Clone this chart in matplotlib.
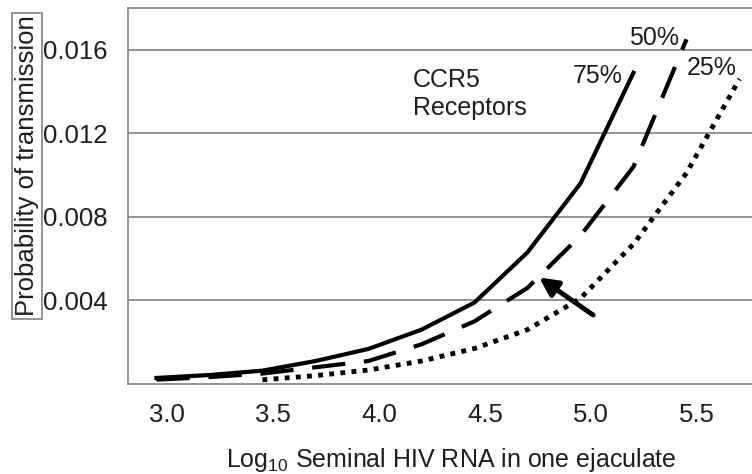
import matplotlib
matplotlib.use('Agg')
import matplotlib.pyplot as plt

plt.rcParams['font.family'] = ['Liberation Sans', 'DejaVu Sans']
plt.rcParams['mathtext.fontset'] = 'custom'
plt.rcParams['mathtext.rm'] = 'Liberation Sans'
plt.rcParams['mathtext.default'] = 'regular'

# log10 seminal HIV RNA vs probability of transmission, by CCR5 receptor level
x_75 = [2.95, 3.2, 3.45, 3.7, 3.95, 4.2, 4.45, 4.7, 4.95, 5.2]
p_75 = [0.00029, 0.00043, 0.00064, 0.0011, 0.00168, 0.0026, 0.0039, 0.0063, 0.0096, 0.0149]

x_50 = [2.95, 3.2, 3.45, 3.7, 3.95, 4.2, 4.45, 4.7, 4.95, 5.2, 5.45]
p_50 = [0.00021, 0.00033, 0.0005, 0.0008, 0.0011, 0.0019, 0.003, 0.0046, 0.0071, 0.0104, 0.0165]

x_25 = [3.45, 3.7, 3.95, 4.2, 4.45, 4.7, 4.95, 5.2, 5.45, 5.7]
p_25 = [0.0002, 0.0004, 0.00067, 0.0011, 0.0017, 0.0026, 0.0041, 0.0067, 0.0101, 0.0146]

xticks = [3.0, 3.5, 4.0, 4.5, 5.0, 5.5]
yticks = [0.004, 0.008, 0.012, 0.016]

txt = '#1e1e1e'
grey = '#8c8c8c'

fig = plt.figure(figsize=(7.52, 4.74), dpi=100)
ax = fig.add_axes([128/752, 90/474, 624/752, 376/474])

ax.plot(x_75, p_75, color='black', lw=3, solid_joinstyle='miter')
ax.plot(x_50, p_50, color='black', lw=3, dashes=(8, 4.5))
ax.plot(x_25, p_25, color='black', lw=3.5, dashes=(1, 1.3))

ax.annotate('', xy=(4.755, 0.0051), xytext=(5.01, 0.0033),
            arrowprops=dict(arrowstyle='-|>,head_length=1.1,head_width=0.55',
                            color='black', lw=3.5, shrinkA=0, shrinkB=0))

ax.text(5.15, 0.01442, '75%', ha='right', va='baseline', fontsize=18, color=txt)
ax.text(5.18, 0.01624, '50%', ha='left', va='baseline', fontsize=18, color=txt)
ax.text(5.45, 0.0148, '25%', ha='left', va='baseline', fontsize=18, color=txt)
ax.text(4.16, 0.01423, 'CCR5', ha='left', va='baseline', fontsize=18, color=txt)
ax.text(4.16, 0.01289, 'Receptors', ha='left', va='baseline', fontsize=18, color=txt)

ax.set_xlim(2.816, 5.759)
ax.set_ylim(0, 0.018)
ax.set_xticks(xticks)
ax.set_xticklabels(['%.1f' % v for v in xticks])
ax.set_yticks(yticks)
ax.set_yticklabels(['%.3f' % v for v in yticks])
ax.tick_params(axis='x', length=0, pad=14, labelsize=18.5, labelcolor=txt)
ax.tick_params(axis='y', length=0, pad=15, labelsize=18.5, labelcolor=txt)
ax.grid(axis='y', color=grey, lw=1.3)
ax.set_axisbelow(True)

for s in ['left', 'top', 'bottom']:
    ax.spines[s].set_color(grey)
    ax.spines[s].set_linewidth(1.3)
ax.spines['right'].set_visible(False)

fig.text(451/752, 1 - 460/474, r'Log$_{10}$ Seminal HIV RNA in one ejaculate',
         ha='center', va='center', fontsize=18, color=txt)
fig.text(27/752, 1 - 166/474, 'Probability of transmission', rotation=90,
         ha='center', va='center', fontsize=18.5, color=txt,
         bbox=dict(boxstyle='square,pad=0.1', fc='none', ec=grey, lw=1.3))

fig.savefig('out.png', dpi=100)
